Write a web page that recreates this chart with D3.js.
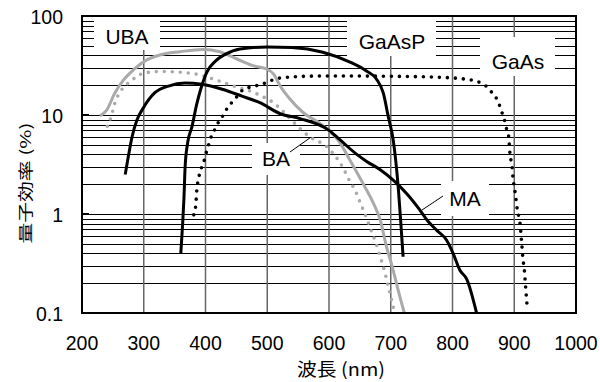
<!DOCTYPE html>
<html><head><meta charset="utf-8">
<script src="https://cdn.jsdelivr.net/npm/d3@7"></script>
<style>body{margin:0;background:#fff}svg{display:block}</style>
</head><body>
<svg id="c" width="600" height="382"></svg>
<script>
// ---- data (wavelength nm, quantum efficiency %) ----
const xTicks = [200,300,400,500,600,700,800,900,1000];
const yTicks = [0.1,1,10,100];
const yTickLabels = ["0.1","1","10","100"];
const xTitle = "波長 (nm)";
const yTitle = "量子効率 (%)";

const UBA = [[229,9.8],[240,11.2],[253,16.6],[267,22.5],[283,28.5],[305,36],[326,40.4],[359,43.6],[396,46],[423,43.6],[450,37],[477,31.5],[500,29],[510,26],[521,19.6],[537,14.4],[558,10.6],[588,8],[618,5.2],[634,3.5],[655,2.04],[672,1.28],[683,0.87],[693,0.47],[704,0.27],[712,0.17],[722,0.1]];
const BA = [[241,7.7],[247,9.5],[253,13.1],[264,17.9],[278,21.7],[299,26.3],[326,27.5],[359,27],[391,25.4],[413,23],[447,19.5],[477,17],[491,15.5],[510,13.3],[526,10.8],[537,9.2],[550,7.6],[569,6.0],[596,4.8],[615,3.5],[623,2.9],[634,2.12],[642,1.75],[650,1.33],[661,0.9],[669,0.66],[675,0.53],[683,0.37],[691,0.25],[696,0.185],[702,0.13],[706,0.1]];
const GaAsP = [[360,0.4],[363,0.8],[365,1.4],[367,3.0],[371,5.2],[378,7.6],[386,13],[392,18],[402,27],[416,35],[432,41],[456,46.5],[500,48.7],[540,48],[590,43],[635,34],[660,28],[677,23],[688,16.6],[696,9.6],[704,5.6],[708,3.5],[712,1.9],[716,0.87],[720,0.37]];
const MA = [[270,2.5],[275,3.8],[281,6],[289,8.9],[300,12],[318,16.8],[340,19.6],[367,21],[394,20.4],[427,18.2],[459,15.5],[488,13.3],[521,10.3],[553,9.2],[600,7],[618,5.6],[645,4.0],[661,3.4],[683,2.8],[704,2.2],[726,1.6],[747,1.1],[760,0.85],[775,0.68],[790,0.55],[801,0.4],[812,0.27],[823,0.22],[839,0.1]];
const GaAs = [[381,0.98],[384,1.19],[386,1.75],[390,2.48],[394,3.0],[399,3.65],[402,4.36],[406,5.2],[410,6.2],[416,7.3],[422,8.7],[430,10.2],[436,12],[445,13.8],[461,18],[480,19.6],[491,20.4],[504,22],[515,23.3],[529,23.9],[553,24.5],[600,24.8],[700,24.6],[780,24],[823,22.9],[845,21.2],[855,19.4],[863,17.1],[872,14.4],[877,12.1],[881,10.2],[885,8.5],[888,7.06],[891,6.06],[892,5.0],[893,4.1],[895,3.4],[897,2.78],[898,2.29],[900,1.89],[902,1.56],[905,1.1],[908,0.9],[910,0.74],[911,0.61],[912,0.51],[913,0.43],[914,0.35],[916,0.29],[917,0.24],[918,0.2],[919,0.164],[920,0.137],[921,0.114]];

const labels = [
  {text:"UBA",   box:[94,16,160,50],  at:[127,36]},
  {text:"GaAsP", box:[347,16,436,56], at:[392,41]},
  {text:"GaAs",  box:[480,37,555,76], at:[518,61]},
  {text:"BA",    box:[252,143,300,175], at:[276,158]},
  {text:"MA",    box:[441,181,489,216], at:[465,198]}
];
const leaders = [[[290,152],[310.5,137.5]],[[443,196],[422,210]]];

// ---- chart ----
const svg = d3.select("#c");
const L=82,R=576,T=16,B=313;
const x = d3.scaleLinear().domain([200,1000]).range([L,R]);
const y = d3.scaleLog().domain([0.1,100]).range([B,T]);

// horizontal grid (minor log)
const hvals = [];
for (const d of [0.1,1,10]) for (let k=1;k<10;k++) hvals.push(d*k);
svg.append("g").selectAll("line").data(hvals).join("line")
  .attr("x1",L).attr("x2",R).attr("y1",d=>Math.round(y(d))+0.5).attr("y2",d=>Math.round(y(d))+0.5)
  .attr("stroke","#000").attr("stroke-width",1);
// vertical grid
svg.append("g").selectAll("line").data(xTicks.slice(1,-1)).join("line")
  .attr("x1",d=>x(d)).attr("x2",d=>x(d)).attr("y1",T).attr("y2",B)
  .attr("stroke","#666").attr("stroke-width",1.5);
// small inside ticks on y majors
svg.append("g").selectAll("line").data([1,10]).join("line")
  .attr("x1",L).attr("x2",L+7).attr("y1",d=>y(d)).attr("y2",d=>y(d))
  .attr("stroke","#000").attr("stroke-width",2);

// label boxes
svg.append("g").selectAll("rect").data(labels).join("rect")
  .attr("x",d=>d.box[0]).attr("y",d=>d.box[1]).attr("width",d=>d.box[2]-d.box[0]).attr("height",d=>d.box[3]-d.box[1])
  .attr("fill","#fff");

svg.append("clipPath").attr("id","clip").append("rect").attr("x",L).attr("y",T).attr("width",R-L).attr("height",B-T);

const line = d3.line().x(d=>x(d[0])).y(d=>y(d[1])).curve(d3.curveMonotoneX);
const g = svg.append("g").attr("clip-path","url(#clip)");
const series = [
  {d:UBA, c:"#aaaaaa", w:3, dash:null},
  {d:BA, c:"#aaaaaa", w:3.6, dash:"0 8"},
  {d:MA, c:"#000", w:3, dash:null},
  {d:GaAsP, c:"#000", w:3, dash:null},
  {d:GaAs, c:"#000", w:3.6, dash:"0 8"}
];
g.selectAll("path").data(series).join("path")
  .attr("d",s=>line(s.d)).attr("fill","none").attr("stroke",s=>s.c).attr("stroke-width",s=>s.w)
  .attr("stroke-linecap",s=>s.dash?"round":"butt").attr("stroke-linejoin","round")
  .attr("stroke-dasharray",s=>s.dash);

// leaders
svg.append("g").selectAll("line").data(leaders).join("line")
  .attr("x1",d=>d[0][0]).attr("y1",d=>d[0][1]).attr("x2",d=>d[1][0]).attr("y2",d=>d[1][1])
  .attr("stroke","#000").attr("stroke-width",1);

// label text
svg.append("g").selectAll("text").data(labels).join("text")
  .attr("x",d=>d.at[0]).attr("y",d=>d.at[1]).attr("text-anchor","middle").attr("dominant-baseline","central")
  .attr("font-family","Liberation Sans, Arial, sans-serif").attr("font-size",21).attr("fill","#000")
  .text(d=>d.text);

// frame
svg.append("rect").attr("x",L).attr("y",T).attr("width",R-L).attr("height",B-T)
  .attr("fill","none").attr("stroke","#000").attr("stroke-width",2);

// tick labels
svg.append("g").selectAll("text").data(yTicks).join("text")
  .attr("x",63).attr("y",d=>y(d)+1).attr("text-anchor","end").attr("dominant-baseline","central")
  .attr("font-family","Liberation Sans, Arial, sans-serif").attr("font-size",19.5).attr("fill","#000")
  .text((d,i)=>yTickLabels[i]);
svg.append("g").selectAll("text").data(xTicks).join("text")
  .attr("x",d=>x(d)).attr("y",350).attr("text-anchor","middle")
  .attr("font-family","Liberation Sans, Arial, sans-serif").attr("font-size",19.5).attr("fill","#000")
  .text(d=>d);

// titles
svg.append("text").attr("x",341).attr("y",376).attr("text-anchor","middle")
  .attr("font-family","Noto Sans CJK JP, sans-serif").attr("font-size",18).attr("fill","#000")
  .attr("textLength",88).attr("lengthAdjust","spacingAndGlyphs").text(xTitle);
svg.append("text").attr("transform","translate(31,183) rotate(-90)").attr("text-anchor","middle")
  .attr("font-family","Noto Sans CJK JP, sans-serif").attr("font-size",15).attr("fill","#000")
  .attr("textLength",121).attr("lengthAdjust","spacingAndGlyphs").text(yTitle);
</script>
</body></html>
